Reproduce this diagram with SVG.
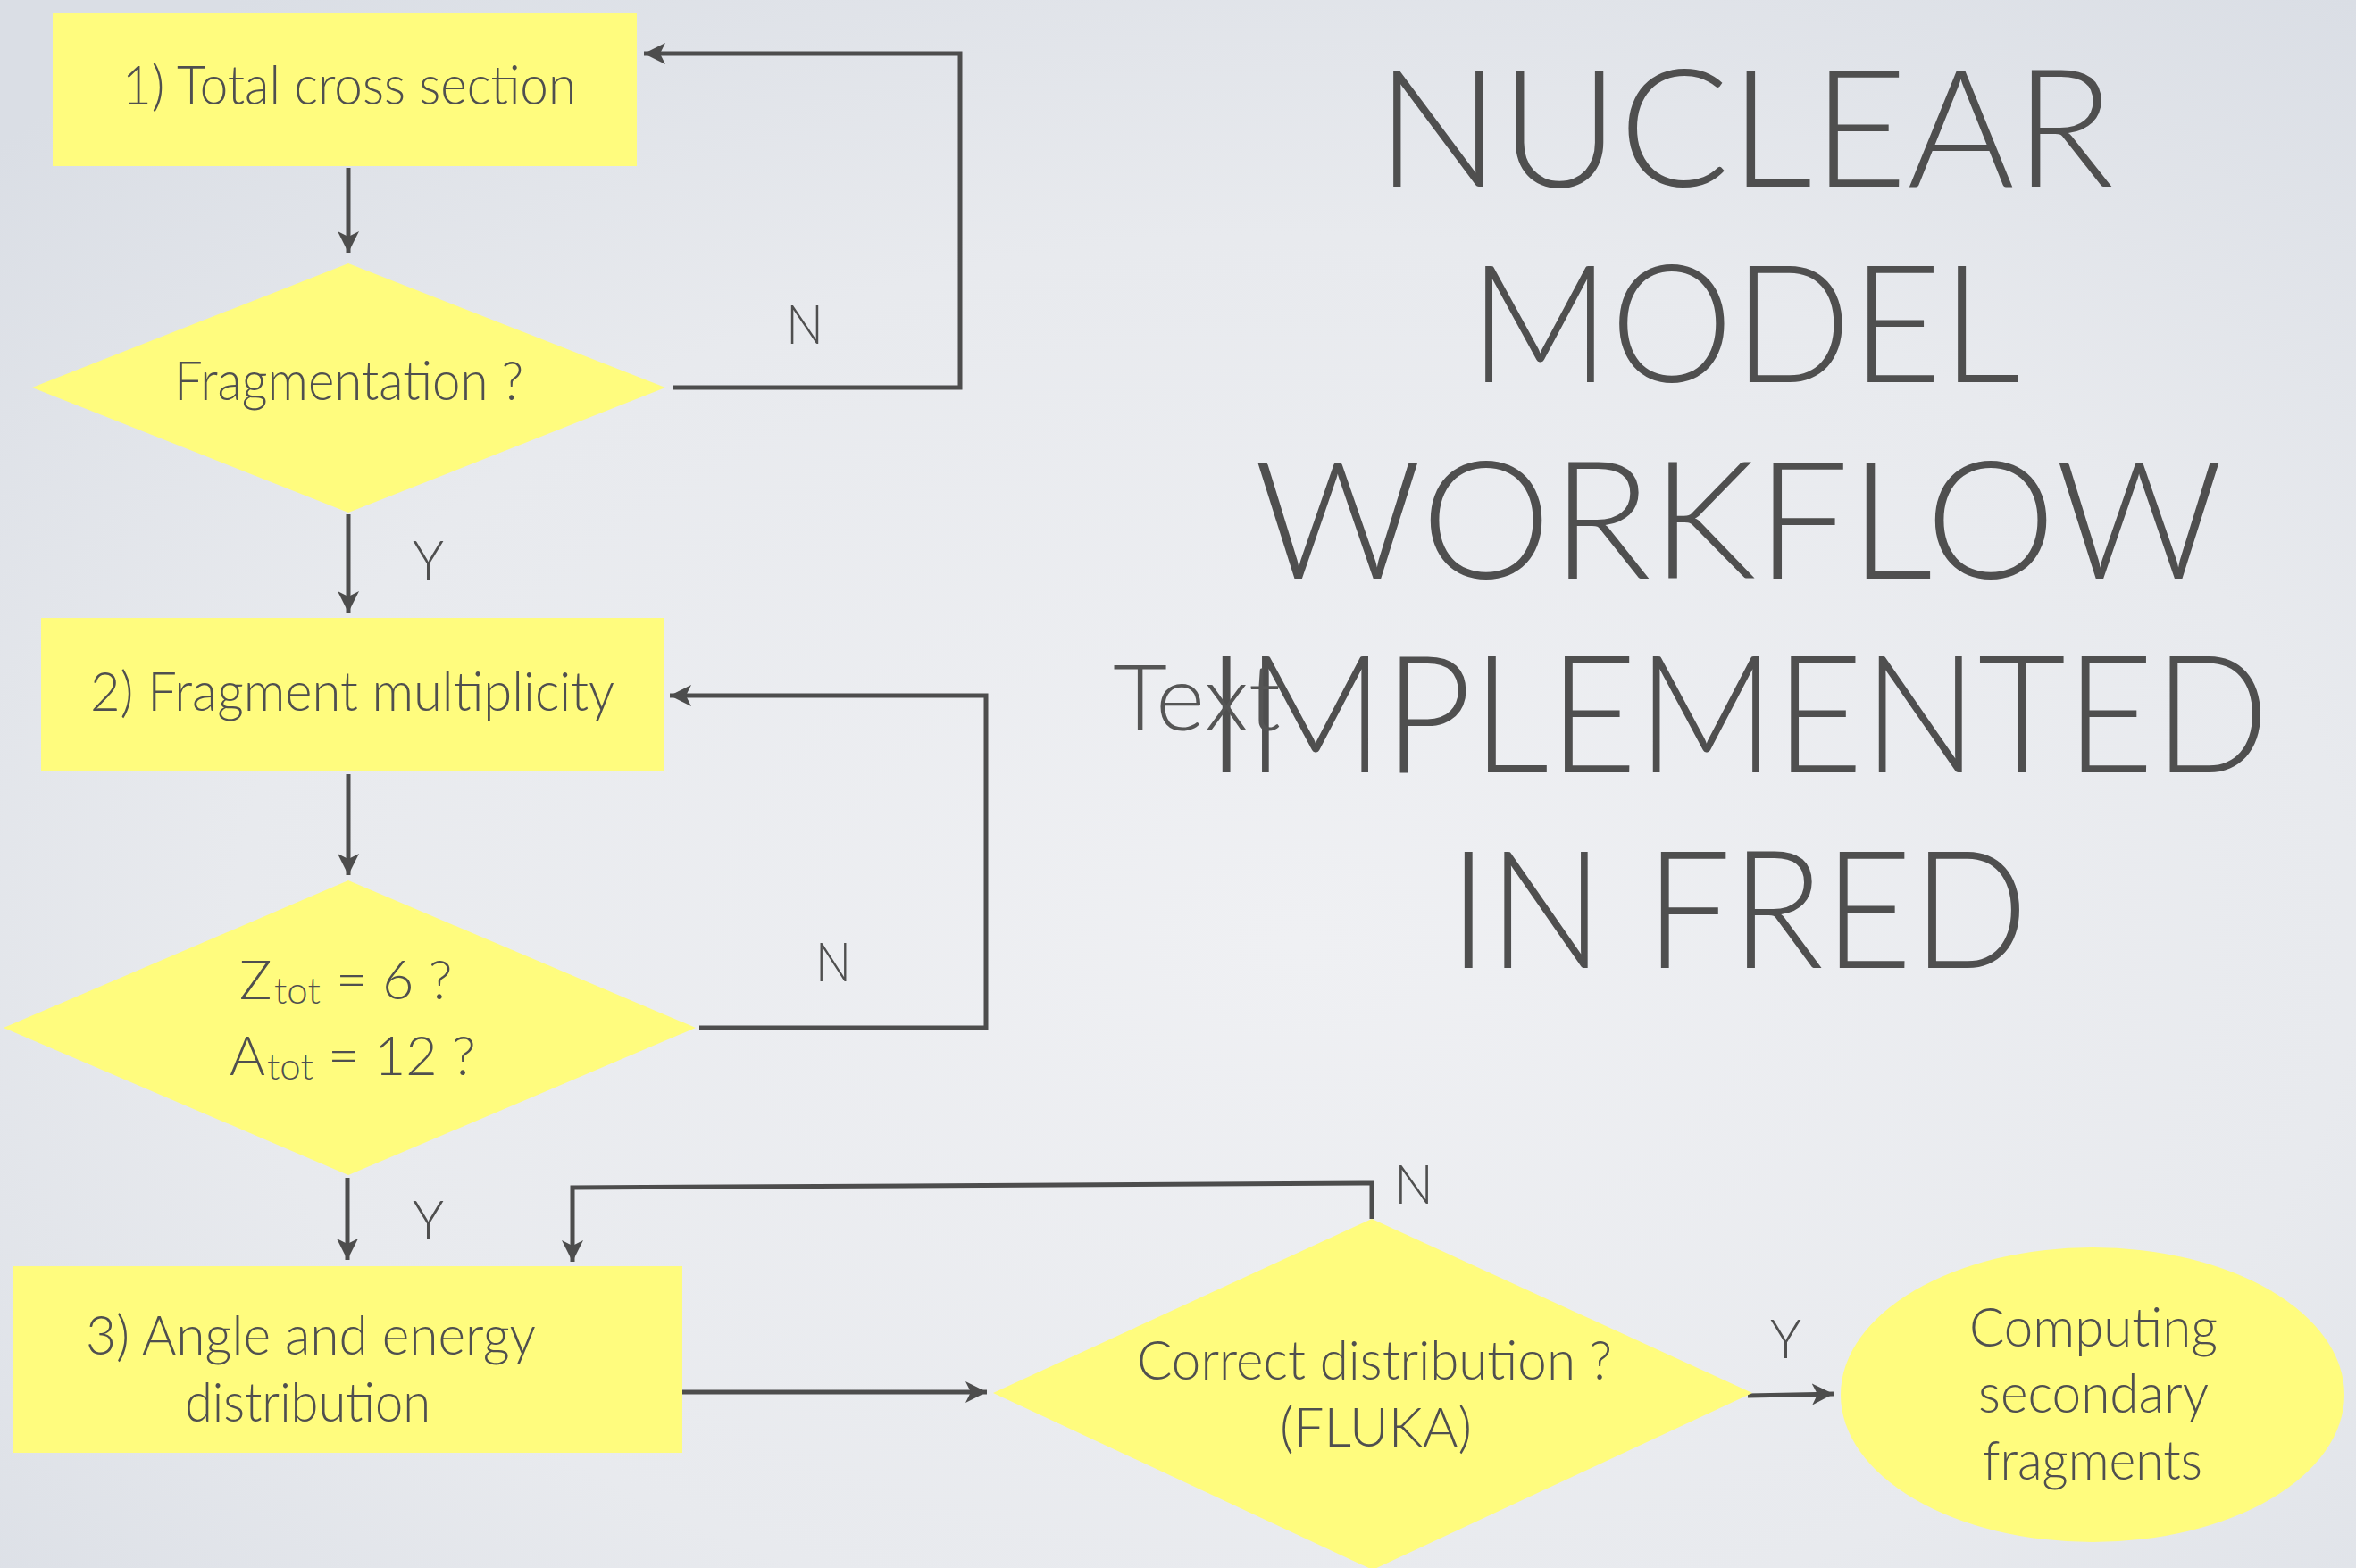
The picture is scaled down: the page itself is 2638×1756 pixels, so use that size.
<svg xmlns="http://www.w3.org/2000/svg" width="2638" height="1756" viewBox="0 0 2638 1756">
<defs>
<radialGradient id="bg" cx="0.55" cy="0.6" r="0.75">
<stop offset="0" stop-color="#EFF0F3"/>
<stop offset="0.6" stop-color="#E8EAEE"/>
<stop offset="1" stop-color="#DADEE5"/>
</radialGradient>
<marker id="ah" markerUnits="userSpaceOnUse" markerWidth="26" markerHeight="26" refX="24" refY="12" orient="auto" viewBox="0 0 26 24">
<path d="M0,0 L24,12 L0,24 L6,12 z" fill="#4D4D4D"/>
</marker>
</defs>
<style>
.box{fill:#FFFC7E;}
.t{font-family:Lato,"Open Sans","Liberation Sans",sans-serif;font-weight:300;fill:#4F4F4F;}
.n{font-size:61px;}
.lbl{font-size:61px;}
.title{font-size:184px;}
.c{fill:none;stroke:#4D4D4D;stroke-width:5;}
</style>
<rect x="0" y="0" width="2638" height="1756" fill="url(#bg)"/>

<g id="title">
<text class="t title" x="1541" y="209" textLength="826" lengthAdjust="spacingAndGlyphs">NUCLEAR</text>
<text class="t title" x="1645" y="428" textLength="617" lengthAdjust="spacingAndGlyphs">MODEL</text>
<text class="t title" x="1404" y="648" textLength="1085" lengthAdjust="spacingAndGlyphs">WORKFLOW</text>
<text class="t title" x="1351" y="865" textLength="1190" lengthAdjust="spacingAndGlyphs">IMPLEMENTED</text>
<text class="t title" x="1622" y="1084" textLength="649" lengthAdjust="spacingAndGlyphs">IN FRED</text>
</g>
<g id="placeholder">
<text class="t" style="font-size:103px;fill:#555" x="1246" y="818" textLength="188" lengthAdjust="spacingAndGlyphs">Text</text>
</g>

<g id="connectors">
<path class="c" d="M390,188 L390,283" marker-end="url(#ah)"/>
<path class="c" d="M754,434 L1075,434 L1075,60 L721,60" marker-end="url(#ah)"/>
<path class="c" d="M390,576 L390,686" marker-end="url(#ah)"/>
<path class="c" d="M390,867 L390,980" marker-end="url(#ah)"/>
<path class="c" d="M783,1151 L1104,1151 L1104,779 L750,779" marker-end="url(#ah)"/>
<path class="c" d="M389,1319 L389,1411" marker-end="url(#ah)"/>
<path class="c" d="M1536,1365 L1536,1325 L641,1330 L641,1413" marker-end="url(#ah)"/>
<path class="c" d="M761,1559 L1105,1559" marker-end="url(#ah)"/>
<path class="c" d="M1957,1563 L2053,1561" marker-end="url(#ah)"/>
<text class="t lbl" x="880" y="385" textLength="42" lengthAdjust="spacingAndGlyphs">N</text>
<text class="t lbl" x="462" y="649" textLength="35" lengthAdjust="spacingAndGlyphs">Y</text>
<text class="t lbl" x="913" y="1099" textLength="40" lengthAdjust="spacingAndGlyphs">N</text>
<text class="t lbl" x="462" y="1388" textLength="35" lengthAdjust="spacingAndGlyphs">Y</text>
<text class="t lbl" x="1561" y="1348" textLength="44" lengthAdjust="spacingAndGlyphs">N</text>
<text class="t lbl" x="1982" y="1521" textLength="35" lengthAdjust="spacingAndGlyphs">Y</text>
</g>

<g id="node-total-cross-section">
<rect class="box" x="59" y="15" width="654" height="171"/>
<text class="t n" x="137" y="117" textLength="508" lengthAdjust="spacingAndGlyphs">1) Total cross section</text>
</g>
<g id="node-fragmentation">
<polygon class="box" points="390,295 745,434 390,574 36,434"/>
<text class="t n" x="195" y="448" textLength="391" lengthAdjust="spacingAndGlyphs">Fragmentation ?</text>
</g>
<g id="node-fragment-multiplicity">
<rect class="box" x="46" y="692" width="698" height="171"/>
<text class="t n" x="101" y="796" textLength="587" lengthAdjust="spacingAndGlyphs">2) Fragment multiplicity</text>
</g>
<g id="node-ztot-atot">
<polygon class="box" points="390,986 779,1151 390,1316 4,1151"/>
<text class="t n" x="268" y="1119">Z<tspan x="307" y="1124" style="font-size:42px">tot</tspan><tspan x="376" y="1119">= 6 ?</tspan></text>
<text class="t n" x="257" y="1204">A<tspan x="299" y="1209" style="font-size:42px">tot</tspan><tspan x="367" y="1204">= 12 ?</tspan></text>
</g>
<g id="node-angle-energy">
<rect class="box" x="14" y="1418" width="750" height="209"/>
<text class="t n" x="96" y="1517" textLength="504" lengthAdjust="spacingAndGlyphs">3) Angle and energy</text>
<text class="t n" x="207" y="1592" textLength="275" lengthAdjust="spacingAndGlyphs">distribution</text>
</g>
<g id="node-correct-distribution">
<polygon class="box" points="1536,1365 1962,1560 1537,1758 1112,1560"/>
<text class="t n" x="1273" y="1545" textLength="532" lengthAdjust="spacingAndGlyphs">Correct distribution ?</text>
<text class="t n" x="1433" y="1620" textLength="215" lengthAdjust="spacingAndGlyphs">(FLUKA)</text>
</g>
<g id="node-computing">
<ellipse class="box" cx="2343" cy="1562" rx="282" ry="165"/>
<text class="t n" x="2205" y="1508" textLength="278" lengthAdjust="spacingAndGlyphs">Computing</text>
<text class="t n" x="2215" y="1582" textLength="258" lengthAdjust="spacingAndGlyphs">secondary</text>
<text class="t n" x="2220" y="1657" textLength="246" lengthAdjust="spacingAndGlyphs">fragments</text>
</g>
</svg>
